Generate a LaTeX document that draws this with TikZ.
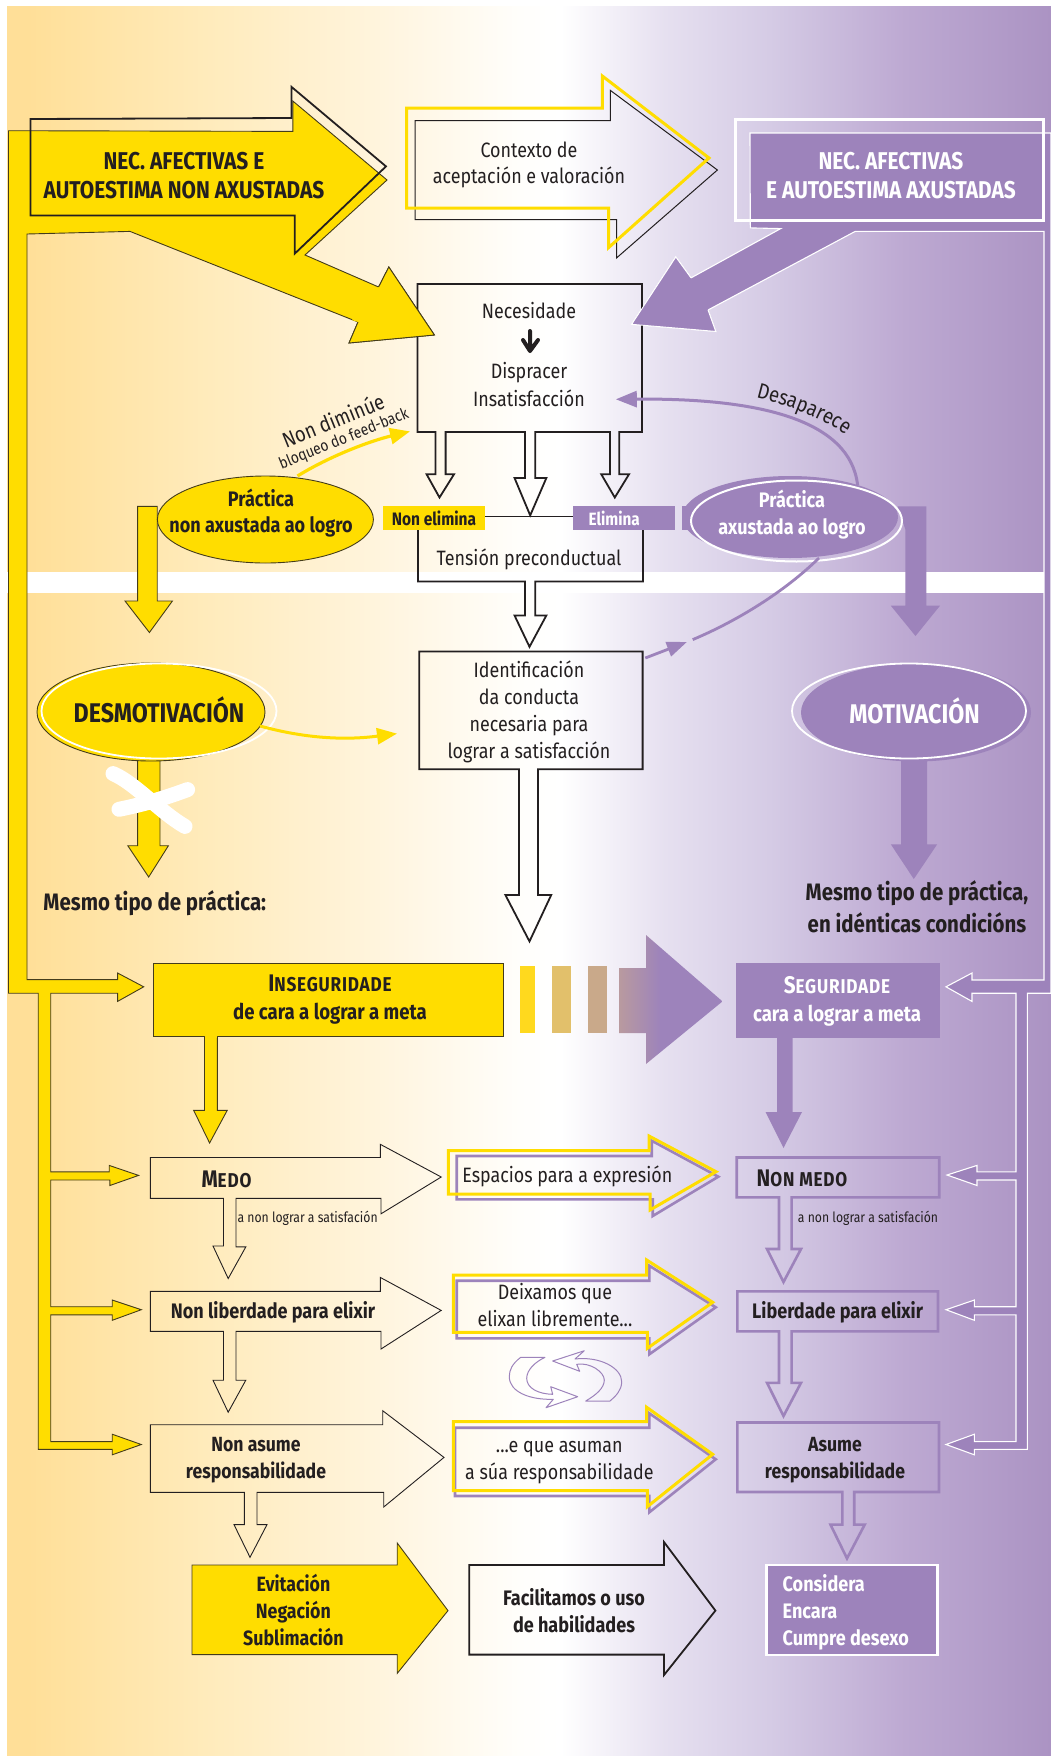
\documentclass[tikz,border=0pt]{standalone}
\usepackage{fontspec}
\setmainfont{Fira Sans}[FakeStretch=0.86]
\usetikzlibrary{shapes.geometric,decorations.text,arrows.meta}
\definecolor{yel}{HTML}{FFDD00}
\definecolor{pur}{HTML}{9D83BB}
\definecolor{ink}{HTML}{231F20}
\definecolor{bgA}{HTML}{FFDF98}
\definecolor{bgB}{HTML}{FFEBBB}
\definecolor{bgC}{HTML}{FFF4DC}
\definecolor{bgD}{HTML}{FFFEFB}
\definecolor{bgE}{HTML}{E6E0F0}
\definecolor{bgF}{HTML}{D5CBE5}
\definecolor{bgG}{HTML}{BDA9D2}
\definecolor{bgH}{HTML}{AB93C3}
\definecolor{stripeA}{HTML}{FFD91E}
\definecolor{stripeB}{HTML}{E2C06B}
\definecolor{stripeC}{HTML}{C9A98A}
\definecolor{stripeD}{HTML}{B99A9F}
\pgfdeclarehorizontalshading{bgshade}{100bp}{
 color(0bp)=(bgA); color(26bp)=(bgA); color(34.5bp)=(bgB); color(42.5bp)=(bgC); color(49.5bp)=(bgD); color(51.5bp)=(white);
 color(56.5bp)=(bgE); color(61.5bp)=(bgF); color(68bp)=(bgG); color(75bp)=(bgH); color(100bp)=(bgH)}
\pgfdeclarehorizontalshading{gradarrow}{100bp}{
 color(0bp)=(stripeD); color(25bp)=(stripeD); color(45bp)=(pur); color(100bp)=(pur)}
\newcommand{\lsc}[2]{{\addfontfeature{LetterSpace=4}{\fontsize{24}{24}\selectfont #1}{\fontsize{20}{24}\selectfont #2}}}
\tikzset{
 txt/.style={text=ink,align=center,inner sep=0pt,font=\fontsize{20.8}{27}\selectfont},
 btxt/.style={txt,font=\fontsize{21}{27}\selectfont\bfseries},
 wtxt/.style={btxt,text=white},
 ypoly/.style={fill=yel,draw=ink!85!yel,line width=.9pt,line join=miter},
 ppoly/.style={fill=pur,draw=white,line width=1.1pt,line join=miter},
 blk/.style={draw=ink,line width=1.8pt,line join=miter},
 thin blk/.style={draw=ink,line width=1pt,line join=miter},
 yline/.style={draw=yel,line width=3pt,line join=miter},
 pline/.style={draw=pur,line width=2.6pt,line join=miter},
 cyc/.style={draw=pur,line width=1pt,line join=round},
 lightarrow/.style={draw=ink,line width=.9pt,line join=miter},
}
\begin{document}
\begin{tikzpicture}[x=1pt,y=-1pt]
\useasboundingbox (0,0) rectangle (1051,1756);
\fill[white] (0,0) rectangle (1051,1756);
\shade[shading=bgshade] (7,6) rectangle (1051,1756);
\fill[white] (7,572) rectangle (1044,593);

% left yellow pipe + big arrow
\path[ypoly] (8.5,130.7) -- (292.8,131.4) -- (292.8,101) -- (387,180) -- (305,255) -- (378.6,287) -- (388.8,267) -- (434.4,335) -- (349,343) -- (358,322) -- (130,231.4) -- (27,234)
 -- (27,979.6) -- (117.6,979.6) -- (117.6,973) -- (143.7,986.8) -- (117.6,1001.4) -- (117.6,993.2) -- (50.7,993.2)
 -- (50.7,1171.8) -- (109.2,1171.8) -- (109.2,1165.4) -- (138.6,1175.4) -- (109.9,1185.5) -- (109.9,1180) -- (50.7,1180)
 -- (50.7,1306.7) -- (112.2,1306.7) -- (112.2,1300) -- (141.3,1309.7) -- (112.2,1320.3) -- (112.2,1314.8) -- (50.7,1314.8)
 -- (50.7,1441.6) -- (112.2,1441.6) -- (112.2,1434.2) -- (141.3,1444.5) -- (112.2,1454.8) -- (112.2,1449.3) -- (38.2,1449.3)
 -- (38.2,993.2) -- (8.5,993.2) -- cycle;

% right purple pipe + big arrow
\path[ppoly] (750,133) -- (1051,133) -- (1051,993.2) -- (1027.3,993.2) -- (1027.3,1449.3) -- (974.4,1449.3) -- (974.4,1454.8) -- (946,1444.5) -- (974.4,1434.2) -- (974.4,1441.6) -- (1016,1441.6) -- (1016,1314.8) -- (974.4,1314.8) -- (974.4,1320.3) -- (946,1309.7) -- (974.4,1300) -- (974.4,1306.7) -- (1016,1306.7) -- (1016,1180) -- (977,1180) -- (977,1185.5) -- (947,1175) -- (977,1165.4) -- (977,1171.8) -- (1016,1171.8) -- (1016,993.2) -- (972,993.2) -- (972,1001.4) -- (946,986.8) -- (972,973) -- (972,980) -- (1044,980) -- (1044,231.4) -- (855.2,231.4) -- (708,310) -- (715.7,331.4) -- (631.7,324.3) -- (675.8,257) -- (691,277.9) -- (780.7,228.6) -- (750.3,227.9) -- cycle;

% black outline on yellow arrow
\path[blk] (30.4,119) -- (291.4,118) -- (291.4,86.8) -- (386,166.4) -- (294.8,253.6) -- (294.8,215.4) -- (30.4,215.4) -- cycle;
\node[btxt,font=\fontsize{24.3}{29}\selectfont\bfseries] (necA) at (184,176) {NEC. AFECTIVAS E\\AUTOESTIMA NON AXUSTADAS};

% context arrow
\path[thin blk] (415,120.7) -- (610.4,120.7) -- (610.4,90.4) -- (717.4,170) -- (616.5,258) -- (616.5,219.6) -- (415,219.6) -- cycle;
\path[yline] (406.7,108.2) -- (602.3,108.2) -- (602.3,76) -- (709,158) -- (608.7,247.5) -- (608.7,208.2) -- (406.7,208.2) -- cycle;
\node[txt,font=\fontsize{20.8}{26}\selectfont] (ctx) at (529,164.5) {Contexto de\\aceptación e valoración};

% purple title
\draw[white,line width=3pt] (735,119.6) rectangle (1043,220);
\node[wtxt,font=\fontsize{24.3}{29}\selectfont\bfseries] (necB) at (891,175.5) {NEC. AFECTIVAS\\E AUTOESTIMA AXUSTADAS};

% Necesidade box with three outgoing arrows
\path[blk] (417.5,284) -- (642,284) -- (642,432) -- (619.2,432) -- (619.2,474.3) -- (629,474.3) -- (614.8,497.5) -- (601.3,474.3) -- (610,474.3) -- (610,432) -- (535.2,432) -- (535.2,477.9) -- (546.4,477.9) -- (530.2,515.4) -- (514.5,477.9) -- (525,477.9) -- (525,432) -- (445.6,432) -- (445.6,474.3) -- (454,474.3) -- (439.5,497.5) -- (426.6,474.3) -- (435.4,474.3) -- (435.4,432) -- (417.5,432) -- cycle;
% arrow tips above the box
\path[fill=yel] (352,320) -- (378.6,287) -- (388.8,267) -- (434.4,335) -- (349,343) -- (358,322) -- cycle;
\path[draw=ink!85!yel,line width=.9pt] (378.6,287) -- (388.8,267) -- (434.4,335) -- (349,343) -- (358,322);
\path[fill=pur] (691,277.9) -- (675.8,257) -- (631.7,324.3) -- (715.7,331.4) -- (708,310) -- cycle;
\path[draw=white,line width=.9pt] (691,277.9) -- (675.8,257) -- (631.7,324.3) -- (715.7,331.4) -- (708,310);

\node[txt] (nec) at (529,311) {Necesidade};
\coordinate (necdown) at (530,331);
\coordinate (necdownend) at (530,351);
\draw[ink,line width=4pt,line cap=round,line join=round] (necdown) -- (necdownend) (523,340) -- (necdownend) -- (538,340);
\node[txt,font=\fontsize{20.8}{28}\selectfont] (dis) at (529,384.5) {Dispracer\\Insatisfacción};

% Tension box
\path[blk] (418,529.6) -- (418,581.4) -- (525,581.4) -- (525,615.4) -- (514.5,615.4) -- (529.5,646.8) -- (546.4,615.4) -- (535.2,615.4) -- (535.2,581.4) -- (643,581.4) -- (643,529.6);
\draw[ink,line width=1.4pt] (485,516.4) -- (574,516.4);
\node[txt] (ten) at (529,559) {Tensión preconductual};
\node[fill=yel,minimum width=102pt,minimum height=23.2pt,inner sep=0pt,text=ink,font=\fontsize{18}{20}\selectfont\bfseries] (nonel) at (434,518) {Non elimina};
\node[fill=pur,minimum width=101.5pt,minimum height=23.2pt,inner sep=0pt,text=white,font=\fontsize{17.8}{20}\selectfont\bfseries] (elim) at (624.2,518) {\hspace*{-20pt}Elimina};

% yellow practice ellipse + arrow
\path[ypoly] (137.6,506.4) -- (157.2,506.4) -- (157.2,601) -- (172.4,601) -- (149.4,632.5) -- (125,601) -- (137.6,601) -- cycle;
\node[ellipse,fill=yel,draw=ink!85!yel,line width=.9pt,minimum width=216pt,minimum height=87pt,inner sep=0pt] (pracY) at (265.4,519.5) {};
\node[btxt,font=\fontsize{21}{26}\selectfont\bfseries] (pracYt) at (261,513) {Práctica\\non axustada ao logro};
\coordinate (fbstart) at (297.5,476);
\coordinate (fbend) at (410,431.4);
\draw[yel,line width=3.2pt,-{Triangle[length=20pt,width=16pt]}] (fbstart) .. controls (330,456) and (370,441) .. (fbend);
\node[txt,rotate=22,font=\fontsize{21.5}{24}\selectfont] (nond) at (333,420) {Non diminúe};
\node[txt,rotate=22,font=\fontsize{16}{18}\selectfont] (bloq) at (344,439.5) {bloqueo do feed-back};

% purple practice
\fill[pur] (682,506.4) rectangle (700,529.6);
\path[fill=pur] (897.6,506.4) -- (926.4,506.4) -- (926.4,605.7) -- (940,605.7) -- (915.5,636) -- (890.8,605.7) -- (905.4,605.7) -- (905.4,529.6) -- cycle;
\node[ellipse,fill=pur,minimum width=216pt,minimum height=82pt,inner sep=0pt] (pracPback) at (790,517) {};
\node[ellipse,draw=white,line width=2pt,minimum width=211pt,minimum height=81pt,inner sep=0pt] (pracP) at (796.5,521) {};
\node[wtxt] (pracPt) at (792,515) {Práctica\\axustada ao logro};
\coordinate (desstart) at (857.6,485);
\coordinate (desend) at (615.8,399.3);
\draw[pur,line width=3pt,-{Triangle[length=21pt,width=16pt]}] (desstart) .. controls (850,420) and (760,398) .. (desend);
\path[decorate,decoration={text along path,text={|\fontsize{21.5}{24}\selectfont\color{ink}|Desaparece},text align=center}] (751,396) .. controls (786,404) and (823,418) .. (850,438);

% dashed purple link
\coordinate (lnkA) at (819,558);
\coordinate (lnkB) at (692.7,639.6);
\coordinate (lnkC) at (645.3,658);
\coordinate (lnkD) at (686.9,642);
\draw[pur,line width=2.8pt] (lnkA) .. controls (780,596) and (730,624) .. (lnkB);
\draw[pur,line width=2.8pt,-{Triangle[length=20pt,width=15pt]}] (lnkC) -- (lnkD);

% Identification box
\path[blk] (419.2,651.4) -- (642.6,651.4) -- (642.6,769.3) -- (538,769.3) -- (538,895) -- (551.2,895) -- (529.5,941.4) -- (505.4,895) -- (519,895) -- (519,769.3) -- (419.2,769.3) -- cycle;
\node[txt] (ident) at (529,711.5) {Identificación\\da conducta\\necesaria para\\lograr a satisfacción};

% Desmotivacion
\path[ypoly] (137.6,755) -- (160,755) -- (160,845.7) -- (168.4,845.7) -- (148.7,877) -- (127.8,845.7) -- (137.6,845.7) -- cycle;
\node[ellipse,fill=yel,draw=ink!85!yel,line width=.9pt,minimum width=228pt,minimum height=98pt,inner sep=0pt] (desm) at (151,712) {};
\node[ellipse,draw=white,line width=1.8pt,minimum width=235pt,minimum height=95pt,inner sep=0pt] (desmw) at (159,711) {};
\node[btxt,font=\fontsize{27}{30}\selectfont\bfseries] (desmt) at (159,710) {DESMOTIVACIÓN};
\coordinate (xa) at (113,773.6); \coordinate (xb) at (185,826.4); \coordinate (xc) at (119,809.3); \coordinate (xd) at (187.6,789.6);
\draw[white,line width=15pt,line cap=round] (xa) .. controls (135,783) and (160,812) .. (xb);
\draw[white,line width=15pt,line cap=round] (xc) .. controls (145,804) and (165,798) .. (xd);
\coordinate (dsA) at (260,726); \coordinate (dsB) at (397,733.6);
\draw[yel,line width=3pt,-{Triangle[length=20pt,width=16pt]}] (dsA) .. controls (300,737) and (340,741) .. (dsB);
\node[btxt,font=\fontsize{23.8}{32}\selectfont\bfseries] (mesA) at (154.8,903) {Mesmo tipo de práctica:};

% Motivacion
\path[fill=pur] (901,755) -- (927,755) -- (927,844.3) -- (937.2,844.3) -- (913.8,879) -- (890.8,844.3) -- (901,844.3) -- cycle;
\node[ellipse,fill=pur,minimum width=230pt,minimum height=98pt,inner sep=0pt] (mot) at (916,712.5) {};
\node[ellipse,draw=white,line width=1.8pt,minimum width=234pt,minimum height=95pt,inner sep=0pt] (motw) at (909,711) {};
\node[wtxt,font=\fontsize{27}{30}\selectfont\bfseries] (mott) at (914.5,710.5) {MOTIVACIÓN};
\node[btxt,font=\fontsize{23.8}{32}\selectfont\bfseries] (mesB) at (917,907) {Mesmo tipo de práctica,\\en idénticas condicións};

% Inseguridade
\path[ypoly] (153,963.6) rectangle (503.7,1036.4);
\path[ypoly] (204.5,1036.4) -- (204.5,1110.4) -- (193.7,1110.4) -- (209.6,1143) -- (227.2,1110.4) -- (217.4,1110.4) -- (217.4,1036.4);
\fill[yel] (205,1034) rectangle (217,1038);
\node[btxt,font=\fontsize{21.6}{28}\selectfont\bfseries] (inse) at (330,999.5) {\lsc{I}{NSEGURIDADE}\\de cara a lograr a meta};

% Stripes + arrow
\fill[stripeA] (520,965.7) rectangle (534.6,1033.2);
\fill[stripeB] (552,965.7) rectangle (570.8,1033.2);
\fill[stripeC] (588.4,965.7) rectangle (607,1033.2);
\shade[shading=gradarrow] (619.2,968) -- (646,968) -- (646,935) -- (722.5,1001.4) -- (646,1064) -- (646,1033) -- (619.2,1033) -- cycle;

% Seguridade
\fill[pur] (736,963) rectangle (940,1037.9);
\path[fill=pur] (777,1036) -- (777,1112) -- (765.5,1112) -- (783.5,1148) -- (802,1112) -- (792.5,1112) -- (792.5,1036) -- cycle;
\node[wtxt,font=\fontsize{21.6}{28}\selectfont\bfseries] (segu) at (837,1001.5) {\lsc{S}{EGURIDADE}\\cara a lograr a meta};

% Medo arrow
\path[lightarrow] (150.4,1157.5) -- (380.3,1157.5) -- (380.3,1144.3) -- (441.2,1177) -- (381,1213.8) -- (381,1198.4) -- (236,1198.4) -- (236,1246.9) -- (245.8,1246.9) -- (228.2,1278.5) -- (213,1246) -- (223.5,1246) -- (223.5,1198.4) -- (150.4,1198.4) -- cycle;
\node[btxt] (medo) at (226.5,1179) {\lsc{M}{EDO}};
\node[txt,font=\fontsize{14.2}{16}\selectfont] (medos) at (307.6,1218.6) {a non lograr a satisfación};

\path[lightarrow] (150.4,1291.3) -- (380.3,1291.3) -- (380.3,1277.4) -- (441.2,1310.4) -- (381,1349) -- (381,1331.4) -- (236,1331.4) -- (236,1380.2) -- (245.8,1380.2) -- (228.2,1412.2) -- (213,1380.2) -- (223.5,1380.2) -- (223.5,1331.4) -- (150.4,1331.4) -- cycle;
\node[btxt] (nlib) at (273,1312.5) {Non liberdade para elixir};

\path[lightarrow] (150.4,1424.7) -- (382.7,1424.7) -- (382.7,1410.7) -- (444,1457.4) -- (383.7,1507) -- (383.7,1492.3) -- (257,1492.3) -- (257,1524.6) -- (267,1524.6) -- (250,1557.3) -- (234,1524.6) -- (244.4,1524.6) -- (244.4,1492.3) -- (150.4,1492.3) -- cycle;
\node[btxt,font=\fontsize{20.5}{27}\selectfont\bfseries] (nasu) at (256,1460.5) {Non asume\\responsabilidade};

\path[ypoly] (192,1565) -- (397.2,1565) -- (397.2,1543) -- (448,1610.6) -- (397.2,1673.4) -- (397.2,1654.6) -- (192,1654.6) -- cycle;
\node[btxt,font=\fontsize{20.7}{27}\selectfont\bfseries] (evit) at (293.4,1610) {Evitación\\Negación\\Sublimación};

% middle double arrows
\path[pline] (456.7,1156) -- (651.7,1156) -- (651.7,1140.7) -- (718.3,1176.7) -- (652.7,1216) -- (652.7,1199.3) -- (456.7,1199.3) -- cycle;
\path[yline] (448.3,1150.7) -- (649,1150.7) -- (649,1136) -- (716,1171.7) -- (650,1210) -- (650,1194) -- (448.3,1194) -- cycle;
\node[txt] (esp) at (567.3,1176) {Espacios para a expresión};

\path[pline] (456.7,1280.7) -- (649.3,1280.7) -- (649.3,1265.7) -- (715.7,1307.3) -- (649.3,1354.3) -- (649.3,1338.3) -- (456.7,1338.3) -- cycle;
\path[yline] (453.3,1275) -- (646.7,1275) -- (646.7,1260) -- (712.7,1302.3) -- (647.3,1348.3) -- (647.3,1332.3) -- (453.3,1332.3) -- cycle;
\node[txt] (deix) at (555,1305) {Deixamos que\\elixan libremente...};

\path[cyc] (545,1357.3) -- (520.7,1357.3) .. controls (512,1364) and (509.3,1370) .. (509.3,1376.7) .. controls (509.3,1392) and (530,1400) .. (553.3,1399.3) -- (546,1407.7) -- (577.7,1396.7) -- (550.7,1386.7) -- (552.7,1394.3) .. controls (538,1394) and (526.7,1388) .. (526.7,1378.3) .. controls (526.7,1370) and (535,1362) .. (545,1357.3) -- cycle;
\path[cyc] (552.7,1361) -- (584.3,1350.7) -- (575,1359) .. controls (600,1356) and (621.7,1368) .. (621.7,1381.7) .. controls (621.7,1390) and (616,1396) .. (610,1401) -- (585.7,1401) .. controls (596,1395) and (604.3,1388) .. (604.3,1380) .. controls (604.3,1372) and (590,1362) .. (576.7,1364.3) -- (579.7,1371.3) -- cycle;

\path[pline] (455,1427.7) -- (649.3,1427.7) -- (649.3,1413.3) -- (715.7,1459.3) -- (649.3,1512.3) -- (649.3,1496) -- (455,1496) -- cycle;
\path[yline] (453.3,1421.7) -- (646.7,1421.7) -- (646.7,1407.3) -- (712.7,1454.3) -- (647.3,1506.7) -- (647.3,1490.7) -- (453.3,1490.7) -- cycle;
\node[txt] (asum) at (559.3,1462.5) {...e que asuman\\a súa responsabilidade};

\path[blk] (469.2,1565) -- (664,1565) -- (664,1542) -- (715.4,1610.6) -- (664,1675) -- (664,1654.6) -- (469.2,1654.6) -- cycle;
\node[btxt] (faci) at (574,1611) {Facilitamos o uso\\de habilidades};

% right column
\path[pline] (736.7,1157.5) -- (939.2,1157.5) -- (939.2,1197.3) -- (791.6,1197.3) -- (791.6,1249) -- (801,1249) -- (783.5,1282) -- (767,1249) -- (779,1249) -- (779,1197.3) -- (736.7,1197.3) -- cycle;
\node[btxt] (nmed) at (802,1178) {\lsc{N}{ON MEDO}};
\node[txt,font=\fontsize{14.2}{16}\selectfont] (nmeds) at (868,1218.6) {a non lograr a satisfación};
\path[pline] (737.4,1291.3) -- (938,1291.3) -- (938,1331.4) -- (791.6,1331.4) -- (791.6,1382.8) -- (801,1382.8) -- (783.5,1416) -- (767,1382.8) -- (779,1382.8) -- (779,1331.4) -- (737.4,1331.4) -- cycle;
\node[btxt] (libe) at (837.6,1312.5) {Liberdade para elixir};
\path[pline] (737.4,1422.5) -- (939,1422.5) -- (939,1492) -- (854.2,1492) -- (854.2,1524.6) -- (864.7,1524.6) -- (847,1558.4) -- (830.5,1524.6) -- (842.4,1524.6) -- (842.4,1492) -- (737.4,1492) -- cycle;
\node[btxt,font=\fontsize{20.5}{27}\selectfont\bfseries] (asus) at (835,1460.5) {Asume\\responsabilidade};
\node[draw=white,fill=pur,line width=2.6pt,minimum width=171pt,minimum height=90pt,inner sep=0pt] (cons) at (852.2,1610) {};
\node[wtxt,align=left,anchor=west] (const) at (782.5,1612) {Considera\\Encara\\Cumpre desexo};
\end{tikzpicture}
\end{document}
